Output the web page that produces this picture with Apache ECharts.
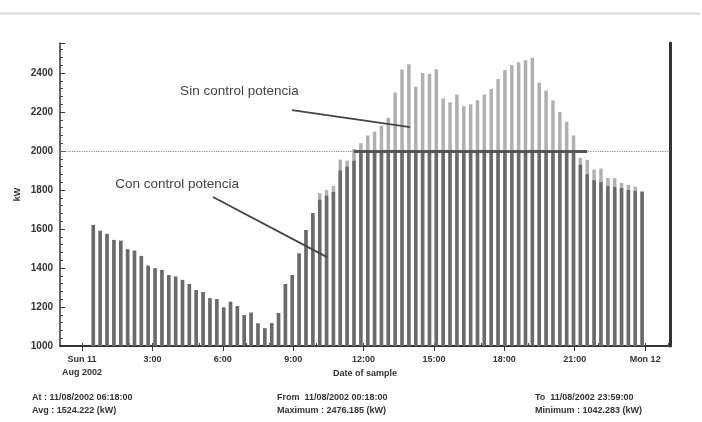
<!DOCTYPE html>
<html>
<head>
<meta charset="utf-8">
<script src="https://cdn.jsdelivr.net/npm/echarts@6/dist/echarts.min.js"></script>
<style>
html,body{margin:0;padding:0;background:#fff;}
#chart{width:702px;height:422px;}
</style>
</head>
<body>
<div id="chart"></div>
<script>
// ---- data (kW, sampled along the day of 11 Aug 2002) ----
const sampleStartHour = 0.48;      // first sample, hours after midnight
const sampleStepHours = 0.2924;    // sampling interval in hours
const sinControl = [
  1621,1591,1575,1544,1540,1496,1489,1462,1412,1399,
  1390,1364,1356,1339,1318,1287,1277,1245,1241,1198,
  1227,1205,1159,1171,1116,1091,1118,1169,1318,1364,
  1475,1595,1682,1785,1800,1820,1955,1950,2010,2040,
  2080,2100,2130,2170,2300,2420,2445,2330,2400,2395,
  2420,2270,2250,2290,2230,2240,2260,2290,2320,2370,
  2415,2440,2455,2465,2478,2350,2310,2260,2200,2150,
  2080,1965,1955,1905,1910,1862,1860,1836,1826,1817,
  1795
];
const conControl = [
  1621,1591,1575,1544,1540,1496,1489,1462,1412,1399,
  1390,1364,1356,1339,1318,1287,1277,1245,1241,1198,
  1227,1205,1159,1171,1116,1091,1118,1169,1318,1364,
  1475,1595,1682,1750,1770,1790,1900,1920,1950,2000,
  2000,2000,2000,2000,2000,2000,2000,2000,2000,2000,
  2000,2000,2000,2000,2000,2000,2000,2000,2000,2000,
  2000,2000,2000,2000,2000,2000,2000,2000,2000,2000,
  2000,1930,1880,1850,1840,1820,1815,1810,1800,1795,
  1790
];
const limitKW = 2000;
const limitFromIdx = 38, limitToIdx = 72;
const xTickHours = [0,3,6,9,12,15,18,21,24];
const xTickLabels = ['Sun 11\nAug 2002','3:00','6:00','9:00','12:00','15:00','18:00','21:00','Mon 12'];
const xMinorHours = [0,1,2,3,4,5,6,7,8,9,10,11,12,13,14,15,16,17,18,19,20,21,22,23,24,25];
const yTicks = [1000,1200,1400,1600,1800,2000,2200,2400];
const annotations = [
  {text:'Sin control potencia', at:[4.18,2303], from:[8.95,2210], to:[13.98,2123]},
  {text:'Con control potencia', at:[1.41,1826], from:[5.58,1764], to:[10.44,1456]}
];
const footer = [
  ['At : 11/08/2002 06:18:00','Avg : 1524.222 (kW)'],
  ['From  11/08/2002 00:18:00','Maximum : 2476.185 (kW)'],
  ['To  11/08/2002 23:59:00','Minimum : 1042.283 (kW)']
];

const times = sinControl.map((_, i) => +(sampleStartHour + i * sampleStepHours).toFixed(4));
const sinData = sinControl.map((v, i) => [times[i], v]);
const conData = conControl.map((v, i) => [times[i], v]);

const chart = echarts.init(document.getElementById('chart'), null, {renderer:'canvas'});
const FONT = '"Liberation Sans", Arial, sans-serif';
const X_MIN = -0.94, X_MAX = 25.06, Y_MIN = 1000, Y_MAX = 2554;
const option = {
  animation:false,
  backgroundColor:'#fff',
  grid:{left:60, right:32, top:43, bottom:76},
  xAxis:[{
    type:'value', min:X_MIN, max:X_MAX,
    axisLine:{show:true, onZero:false, lineStyle:{color:'#333', width:2}},
    axisTick:{show:true, inside:false, length:5, customValues:xTickHours, lineStyle:{color:'#333'}},
    splitLine:{show:false},
    axisLabel:{color:'#333', fontFamily:FONT, fontWeight:'bold', fontSize:9, margin:7, lineHeight:13,
      customValues:xTickHours,
      formatter:(v)=> { const k = xTickHours.indexOf(v); return k >= 0 ? xTickLabels[k] : ''; }},
    name:'Date of sample', nameLocation:'middle', nameGap:23, nameMoveOverlap:false,
    nameTextStyle:{color:'#333', fontFamily:FONT, fontWeight:'bold', fontSize:9}
  },{
    type:'value', min:X_MIN, max:X_MAX, position:'bottom',
    axisLine:{show:false, onZero:false},
    axisTick:{show:true, inside:true, length:3, customValues:xMinorHours, lineStyle:{color:'#444'}},
    axisLabel:{show:false}, splitLine:{show:false}
  }],
  yAxis:[{
    type:'value', min:Y_MIN, max:Y_MAX, interval:200,
    axisLine:{show:true, onZero:false, lineStyle:{color:'#333', width:1.5}},
    axisTick:{show:true, inside:true, length:5, lineStyle:{color:'#333'}},
    minorTick:{show:true, splitNumber:5, length:3, lineStyle:{color:'#444'}},
    splitLine:{show:false},
    axisLabel:{color:'#333', fontFamily:FONT, fontWeight:'bold', fontSize:10, margin:7, showMaxLabel:false,
      formatter:(v)=> yTicks.includes(v) ? String(v) : ''},
    name:'kW', nameLocation:'middle', nameGap:38, nameRotate:90, nameMoveOverlap:false,
    nameTextStyle:{color:'#333', fontFamily:FONT, fontWeight:'bold', fontSize:9}
  },{
    type:'value', min:Y_MIN, max:Y_MAX, position:'right',
    axisLine:{show:true, onZero:false, lineStyle:{color:'#333', width:3}},
    axisTick:{show:false}, axisLabel:{show:false}, splitLine:{show:false}
  }],
  series:[
    {
      name:'Sin control potencia', type:'bar', data:sinData, barWidth:3.5, barGap:'-100%',
      itemStyle:{color:'#b0b0b0'}, z:2,
      markLine:{
        silent:true, symbol:'none', label:{show:false},
        data:[
          {yAxis:limitKW, lineStyle:{type:'dotted', color:'#888', width:1.2}},
          [{coord:[times[limitFromIdx], limitKW]}, {coord:[times[limitToIdx], limitKW], lineStyle:{type:'solid', color:'#555', width:3}}]
        ]
      }
    },
    {
      name:'Con control potencia', type:'bar', data:conData, barWidth:3.5, barGap:'-100%',
      itemStyle:{color:'#6a6a6a'}, z:3
    }
  ]
};
chart.setOption(option);

// annotations anchored in data coordinates
const g = [];
annotations.forEach(a => {
  const p = chart.convertToPixel({gridIndex:0}, a.at);
  const f = chart.convertToPixel({gridIndex:0}, a.from);
  const t = chart.convertToPixel({gridIndex:0}, a.to);
  g.push({type:'text', left:p[0], top:p[1]-8, z:10,
    style:{text:a.text, fill:'#444', font:'13.5px ' + FONT}});
  g.push({type:'line', z:10, shape:{x1:f[0], y1:f[1], x2:t[0], y2:t[1]},
    style:{stroke:'#444', lineWidth:1.8}});
});
const footX = [32, 277, 535];
footer.forEach((lines, k) => {
  g.push({type:'text', left:footX[k], top:391, z:10,
    style:{text:lines.join('\n'), fill:'#333', font:'bold 9px ' + FONT, lineHeight:13}});
});
g.push({type:'rect', shape:{x:0, y:12, width:700, height:3}, style:{fill:'#e4e4e4'}, z:1});
chart.setOption({graphic:g});
</script>
</body>
</html>
